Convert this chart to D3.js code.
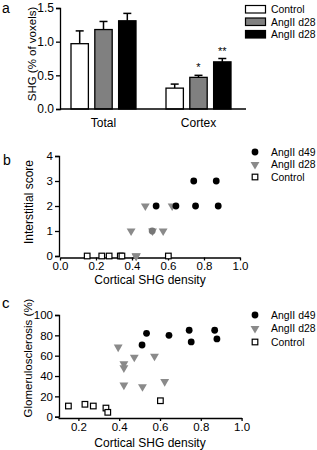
<!DOCTYPE html>
<html>
<head>
<meta charset="utf-8">
<script src="https://cdn.jsdelivr.net/npm/d3@7"></script>
<style>
html,body{margin:0;padding:0;background:#fff;}
svg{display:block;font-family:"Liberation Sans",Arial,sans-serif;}
</style>
</head>
<body>
<svg id="c" width="317" height="450"></svg>
<script>
// ---- Panel a data ----
const groups = ["Total", "Cortex"];
const seriesA = ["Control", "AngII d28", "AngII d28 "];
const seriesALabels = ["Control", "AngII d28", "AngII d28"];
const meanTotal = [0.97, 1.18, 1.31];
const errTotal = [0.19, 0.12, 0.11];
const meanCortex = [0.31, 0.47, 0.70];
const errCortex = [0.06, 0.03, 0.05];
const starsCortex = ["", "*", "**"];
const yTicksA = [0, 0.5, 1.0, 1.5];

// ---- Panels b, c data ----
const d49X = [0.512, 0.534, 0.644, 0.743, 0.753, 0.868, 0.879];
const d49Score = [1, 2, 2, 3, 2, 3, 2];
const d49Glom = [70.5, 82, 80, 85, 73.5, 85, 76.5];
const d28X = [0.395, 0.423, 0.423, 0.423, 0.474, 0.514, 0.573, 0.623];
const d28Score = [1, 0, 0, 0, 2, 1, 1, 2];
const d28Glom = [68.5, 52, 48, 31, 58.5, 29.5, 59.5, 34.5];
const ctrlX = [0.151, 0.232, 0.273, 0.335, 0.344, 0.602];
const ctrlScore = [0, 0, 0, 0, 0, 0];
const ctrlGlom = [10.5, 12.2, 10.5, 8.5, 4.3, 15.7];
const xTicksB = [0, 0.2, 0.4, 0.6, 0.8, 1.0];
const yTicksB = [0, 1, 2, 3, 4];
const xTicksC = [0.2, 0.4, 0.6, 0.8, 1.0];
const yTicksC = [0, 20, 40, 60, 80, 100];
const legendBC = ["AngII d49", "AngII d28", "Control"];

const svg = d3.select("#c");
const GRAY = "#808080";
const TRI = "#8a8a8a";

function yAxisLeft(g, scale, ticks, fmt, fs) {
  const ax = d3.axisLeft(scale).tickValues(ticks).tickFormat(fmt).tickSize(4).tickPadding(2);
  g.call(ax);
  g.select(".domain").attr("stroke", "#000").attr("stroke-width", 1.3);
  g.selectAll(".tick line").attr("stroke", "#000").attr("stroke-width", 1.3);
  g.selectAll(".tick text").attr("font-size", fs).attr("fill", "#000").attr("font-family", "Liberation Sans, Arial, sans-serif");
}

// ===== Panel a =====
const yA = d3.scaleLinear().domain([0, 1.5]).range([109, 8]);
const x0 = d3.scaleBand().domain(groups).range([56, 246]);
const x1 = d3.scaleBand().domain(seriesA).range([-32.5, 32.5]).paddingInner(0.27);
const fills = [ "#fff", GRAY, "#000" ];

const ga = svg.append("g");
const barsData = [];
groups.forEach((g, gi) => {
  const m = gi === 0 ? meanTotal : meanCortex;
  const e = gi === 0 ? errTotal : errCortex;
  seriesA.forEach((s, si) => barsData.push({g, s, si, v: m[si], e: e[si], star: gi === 1 ? starsCortex[si] : ""}));
});
// error bars (upper only)
barsData.forEach(d => {
  const cx = x0(d.g) + x0.bandwidth() / 2 + x1(d.s) + x1.bandwidth() / 2;
  ga.append("line").attr("x1", cx).attr("x2", cx).attr("y1", yA(d.v)).attr("y2", yA(d.v + d.e))
    .attr("stroke", "#000").attr("stroke-width", 1.5);
  ga.append("line").attr("x1", cx - 4).attr("x2", cx + 4).attr("y1", yA(d.v + d.e)).attr("y2", yA(d.v + d.e))
    .attr("stroke", "#000").attr("stroke-width", 1.5);
  if (d.star) {
    ga.append("text").attr("x", cx).attr("y", yA(d.v + d.e) - 4).attr("text-anchor", "middle")
      .attr("font-size", 11).text(d.star);
  }
});
ga.selectAll("rect.bar").data(barsData).enter().append("rect")
  .attr("x", d => x0(d.g) + x0.bandwidth() / 2 + x1(d.s))
  .attr("y", d => yA(d.v))
  .attr("width", x1.bandwidth())
  .attr("height", d => yA(0) - yA(d.v))
  .attr("fill", d => fills[d.si])
  .attr("stroke", "#000").attr("stroke-width", 1.3);

const gaY = svg.append("g").attr("transform", "translate(60,0)");
yAxisLeft(gaY, yA, yTicksA, d3.format(".1f"), 12);
// x axis line
svg.append("line").attr("x1", 60).attr("x2", 246).attr("y1", yA(0)).attr("y2", yA(0)).attr("stroke", "#000").attr("stroke-width", 1.3);
groups.forEach(g => {
  svg.append("text").attr("x", x0(g) + x0.bandwidth() / 2).attr("y", 126.5).attr("text-anchor", "middle")
    .attr("font-size", 12).text(g);
});
svg.append("text").attr("transform", "translate(36,54) rotate(-90)").attr("text-anchor", "middle")
  .attr("font-size", 11.5).text("SHG (% of voxels)");
svg.append("text").attr("x", 2).attr("y", 13).attr("font-size", 14).text("a");

// legend a
seriesALabels.forEach((s, i) => {
  const y = 5.5 + i * 12.5;
  svg.append("rect").attr("x", 245.5).attr("y", y).attr("width", 20).attr("height", 7.5)
    .attr("fill", fills[i]).attr("stroke", "#000").attr("stroke-width", 1.2);
  svg.append("text").attr("x", 271).attr("y", y + 3.9).attr("dy", "0.35em").attr("font-size", 10.4).text(s);
});

// ===== markers =====
const triPath = d3.symbol().type(d3.symbolTriangle).size(34)();
function drawMarkers(g, xs, ys, xS, yS, type, overlap) {
  xs.forEach((xv, i) => {
    const px = xS(xv), py = yS(ys[i]);
    if (type === "circle") {
      const ov = overlap && overlap(xv, ys[i]);
      g.append("circle").attr("cx", px).attr("cy", py).attr("r", 3.4).attr("fill", ov ? "#777" : "#000");
    } else if (type === "tri") {
      g.append("path").attr("d", triPath).attr("transform", `translate(${px},${py}) rotate(180)`).attr("fill", TRI);
    } else {
      g.append("rect").attr("x", px - 2.8).attr("y", py - 2.8).attr("width", 5.6).attr("height", 5.6)
        .attr("fill", "#fff").attr("stroke", "#000").attr("stroke-width", 1.2);
    }
  });
}
function legend(y0, step) {
  legendBC.forEach((s, i) => {
    const y = y0 + i * step;
    if (i === 0) svg.append("circle").attr("cx", 255).attr("cy", y).attr("r", 3.4).attr("fill", "#000");
    else if (i === 1) svg.append("path").attr("d", triPath).attr("transform", `translate(255,${y}) rotate(180)`).attr("fill", TRI);
    else svg.append("rect").attr("x", 252.2).attr("y", y - 2.8).attr("width", 5.6).attr("height", 5.6).attr("fill", "#fff").attr("stroke", "#000").attr("stroke-width", 1.2);
    svg.append("text").attr("x", 271).attr("y", y).attr("dy", "0.35em").attr("font-size", 10.4).text(s);
  });
}

// ===== Panel b =====
const xB = d3.scaleLinear().domain([0, 1]).range([60, 240]);
const yB = d3.scaleLinear().domain([0, 4]).range([256, 156]);
const gbY = svg.append("g").attr("transform", "translate(59,0)");
yAxisLeft(gbY, yB, yTicksB, d3.format("d"), 11.5);
const gbX = svg.append("g").attr("transform", "translate(0,257.5)");
gbX.call(d3.axisBottom(xB).tickValues(xTicksB).tickFormat(d3.format(".1f")).tickSize(3).tickPadding(1.5).tickSizeOuter(0));
gbX.select(".domain").attr("stroke", "#000").attr("stroke-width", 1.3);
gbX.selectAll(".tick line").attr("stroke", "#000").attr("stroke-width", 1.3);
gbX.selectAll(".tick text").attr("font-size", 11.5).attr("fill", "#000").attr("font-family", "Liberation Sans, Arial, sans-serif");
const gb = svg.append("g");
const overlapB = (xv, yv) => d28X.some((x, i) => Math.abs(x - xv) < 0.01 && d28Score[i] === yv);
drawMarkers(gb, ctrlX, ctrlScore, xB, yB, "sq");
drawMarkers(gb, d28X, d28Score, xB, yB, "tri");
drawMarkers(gb, d49X, d49Score, xB, yB, "circle", overlapB);
svg.append("text").attr("x", 150).attr("y", 284).attr("text-anchor", "middle").attr("font-size", 12).text("Cortical SHG density");
svg.append("text").attr("transform", "translate(33,202) rotate(-90)").attr("text-anchor", "middle").attr("font-size", 12).text("Interstitial score");
svg.append("text").attr("x", 3).attr("y", 165).attr("font-size", 14).text("b");
legend(152, 12.5);

// ===== Panel c =====
const xC = d3.scaleLinear().domain([0.1, 1]).range([58, 241.6]);
const yC = d3.scaleLinear().domain([0, 100]).range([416.7, 315]);
const gcY = svg.append("g").attr("transform", "translate(59,0)");
yAxisLeft(gcY, yC, yTicksC, d3.format("d"), 11.5);
const gcX = svg.append("g").attr("transform", "translate(0,418)");
gcX.call(d3.axisBottom(xC).tickValues(xTicksC).tickFormat(d3.format(".1f")).tickSize(3).tickPadding(1.5).tickSizeOuter(0));
gcX.select(".domain").attr("stroke", "#000").attr("stroke-width", 1.3);
gcX.selectAll(".tick line").attr("stroke", "#000").attr("stroke-width", 1.3);
gcX.selectAll(".tick text").attr("font-size", 11.5).attr("fill", "#000").attr("font-family", "Liberation Sans, Arial, sans-serif");
const gc = svg.append("g");
drawMarkers(gc, ctrlX, ctrlGlom, xC, yC, "sq");
drawMarkers(gc, d28X, d28Glom, xC, yC, "tri");
drawMarkers(gc, d49X, d49Glom, xC, yC, "circle");
svg.append("text").attr("x", 150).attr("y", 447).attr("text-anchor", "middle").attr("font-size", 12).text("Cortical SHG density");
svg.append("text").attr("transform", "translate(32,358) rotate(-90)").attr("text-anchor", "middle").attr("font-size", 11.5).text("Glomerulosclerosis (%)");
svg.append("text").attr("x", 2).attr("y", 308).attr("font-size", 15).text("c");
legend(315, 13.5);
</script>
</body>
</html>
